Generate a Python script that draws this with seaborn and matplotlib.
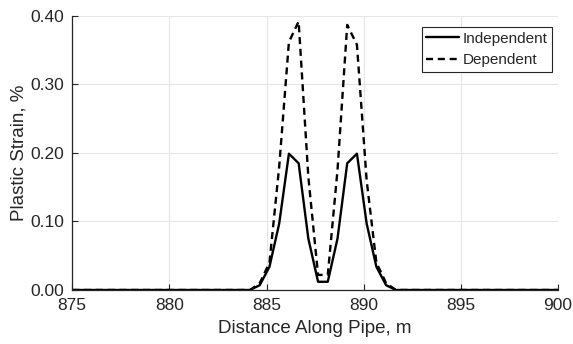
import numpy as np
import pandas as pd
import matplotlib
matplotlib.use("Agg")
import matplotlib.pyplot as plt
import seaborn as sns
from matplotlib.ticker import FormatStrFormatter

# Data
distance = [875.0, 884.15, 884.65, 885.15, 885.65, 886.15, 886.65, 887.15, 887.65,
            888.15, 888.65, 889.15, 889.65, 890.15, 890.65, 891.15, 891.65, 900.0]
independent = [0.0, 0.0, 0.007, 0.034, 0.097, 0.199, 0.185, 0.075, 0.012,
               0.012, 0.075, 0.185, 0.199, 0.097, 0.034, 0.007, 0.0, 0.0]
dependent = [0.0, 0.0, 0.01, 0.04, 0.18, 0.362, 0.392, 0.165, 0.022,
             0.022, 0.175, 0.387, 0.358, 0.16, 0.04, 0.01, 0.0, 0.0]
series_names = ["Independent", "Dependent"]

df = pd.concat([
    pd.DataFrame({"x": distance, "y": independent, "s": series_names[0]}),
    pd.DataFrame({"x": distance, "y": dependent, "s": series_names[1]}),
])

sns.set_theme(style="whitegrid")
plt.rcParams['font.family'] = ['Liberation Sans', 'DejaVu Sans']

fig = plt.figure(figsize=(5.73, 3.44), dpi=100)
ax = fig.add_axes([0.126, 0.157, 0.848, 0.7965])

sns.lineplot(data=df, x="x", y="y", hue="s", style="s",
             palette={"Independent": "black", "Dependent": "black"},
             dashes={"Independent": "", "Dependent": (3, 2)},
             linewidth=1.7, ax=ax, legend=True, sort=False)

ax.set_xlim(875, 900)
ax.set_ylim(0, 0.40)
ax.set_xticks([875, 880, 885, 890, 895, 900])
ax.set_yticks([0, 0.1, 0.2, 0.3, 0.4])
ax.yaxis.set_major_formatter(FormatStrFormatter('%.2f'))
ax.set_xlabel("Distance Along Pipe, m", fontsize=13.5, color="#262626", labelpad=5)
ax.set_ylabel("Plastic Strain, %", fontsize=13.5, color="#262626", labelpad=2)
ax.tick_params(axis='both', labelsize=12.5, colors="#262626", direction='in',
               length=4, width=0.8, left=True, bottom=True)
ax.tick_params(axis='x', pad=6)
ax.tick_params(axis='y', pad=6)
ax.grid(True, color="#e6e6e6", linewidth=0.8)
for side in ["top", "right"]:
    ax.spines[side].set_visible(False)
for side in ["left", "bottom"]:
    ax.spines[side].set_color("#262626")
    ax.spines[side].set_linewidth(0.9)

leg = ax.legend(loc="upper right", bbox_to_anchor=(0.987, 0.96), fontsize=11,
                frameon=True, fancybox=False, handlelength=2.1,
                handletextpad=0.25, borderpad=0.3, labelspacing=0.5,
                borderaxespad=0)
leg.get_frame().set_edgecolor("#262626")
leg.get_frame().set_linewidth(0.8)
leg.get_frame().set_alpha(1)

fig.savefig("out.png", dpi=100)
